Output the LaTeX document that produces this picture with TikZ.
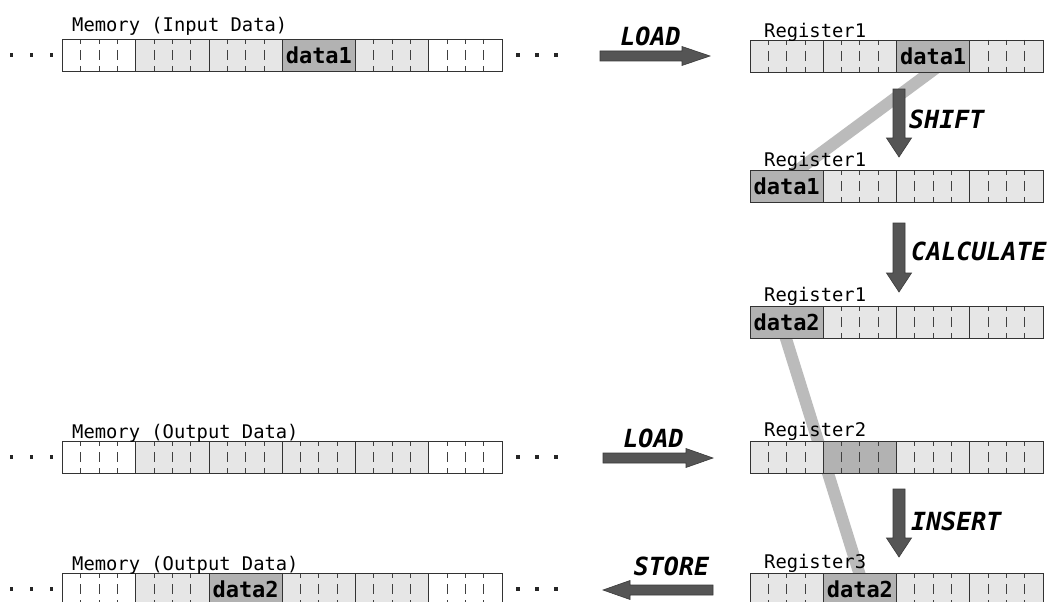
\documentclass[tikz,border=0pt]{standalone}
\usepackage{fontspec}
\usetikzlibrary{calc}
\newfontfamily\lblfont{DejaVu Sans Mono}
\newfontfamily\datafont{DejaVu Sans Mono Bold}
\newfontfamily\opfont{DejaVu Sans Mono Bold Oblique}
\definecolor{lightc}{HTML}{E6E6E6}
\definecolor{darkc}{HTML}{B2B2B2}
\definecolor{bandc}{HTML}{BBBBBB}
\definecolor{arrowc}{HTML}{555555}
\definecolor{arrowline}{HTML}{3A3A3A}
\tikzset{
  cellbase/.style={draw=black!80, line width=0.8pt, minimum width=73.25pt,
    minimum height=32pt, inner sep=0pt, outer sep=0pt, anchor=north west},
  tickd/.style={draw=black!75, line width=0.8pt,
    dash pattern=on 5pt off 6pt on 10pt off 6pt on 5pt off 6pt},
  ticked/.style={path picture={
    \foreach \f in {0.25,0.5,0.75}
      \draw[tickd] ($(path picture bounding box.north west)!\f!(path picture bounding box.north east)$)
        -- ($(path picture bounding box.south west)!\f!(path picture bounding box.south east)$);}},
  wcell/.style={cellbase, fill=white, ticked},
  lcell/.style={cellbase, fill=lightc, ticked},
  mcell/.style={cellbase, fill=darkc, ticked},
  dcell/.style={cellbase, fill=darkc, font=\datafont\fontsize{22}{22}\selectfont},
  lbl/.style={font=\lblfont\fontsize{18.8}{20}\selectfont, anchor=base west, inner sep=0pt},
  oplbl/.style={font=\opfont\fontsize{25}{26}\selectfont, inner sep=0pt},
  band/.style={draw=bandc, line width=12pt},
  blockarrow/.style={fill=arrowc, draw=arrowline, line width=0.6pt, line join=miter},
  dotsq/.style={fill=black!85}
}
\newcommand\cellrow[4]{%
  \foreach \s/\t [count=\i from 0] in {#4} {
    \node[style/.expanded=\s] (#1-\i) at ({#2+\i*73.25}, #3) {\t};
  }}
% horizontal block arrow: tail x, tip x, y, head base x
\newcommand\harrow[4]{%
  \path[blockarrow] (#1,#3-5) -- (#4,#3-5) -- (#4,#3-9.5) -- (#2,#3)
    -- (#4,#3+9.5) -- (#4,#3+5) -- (#1,#3+5) -- cycle;}
% vertical block arrow: x, top y, tip y, head base y
\newcommand\varrow[4]{%
  \path[blockarrow] (#1-6,#2) -- (#1+6,#2) -- (#1+6,#4) -- (#1+12.5,#4) -- (#1,#3)
    -- (#1-12.5,#4) -- (#1-6,#4) -- cycle;}
\newcommand\dotrow[1]{%
  \foreach \xx in {11.7,31.7,51.7,518,537,556}
    \fill[dotsq] (\xx-1.75,#1-1.75) rectangle (\xx+1.75,#1+1.75);}
\begin{document}
\begin{tikzpicture}[x=1pt,y=-1pt]
\clip (0,0) rectangle (1052,602);
\fill[white] (0,0) rectangle (1052,602);
% gray bands (behind everything)
\coordinate (b1s) at (938.7,66);
\coordinate (b1e) at (791.3,175);
\coordinate (b2s) at (783,329);
\coordinate (b2e) at (862,582);
\draw[band] (b1s) -- (b1e);
\draw[band] (b2s) -- (b2e);
% memory rows
\cellrow{min}{62.5}{39}{wcell/{},lcell/{},lcell/{},dcell/data1,lcell/{},wcell/{}}
\cellrow{mouta}{62.5}{441}{wcell/{},lcell/{},lcell/{},lcell/{},lcell/{},wcell/{}}
\cellrow{moutb}{62.5}{573}{wcell/{},lcell/{},dcell/data2,lcell/{},lcell/{},wcell/{}}
\dotrow{55}
\dotrow{457}
\dotrow{589}
% registers
\cellrow{ra}{750}{40}{lcell/{},lcell/{},dcell/data1,lcell/{}}
\cellrow{rb}{750}{170}{dcell/data1,lcell/{},lcell/{},lcell/{}}
\cellrow{rc}{750}{306}{dcell/data2,lcell/{},lcell/{},lcell/{}}
\cellrow{rd}{750}{441}{lcell/{},mcell/{},lcell/{},lcell/{}}
\cellrow{re}{750}{573}{lcell/{},dcell/data2,lcell/{},lcell/{}}
% labels
\node[lbl] (lmin) at (72,32) {Memory (Input Data)};
\node[lbl] (lmouta) at (72,438) {Memory (Output Data)};
\node[lbl] (lmoutb) at (72,570) {Memory (Output Data)};
\node[lbl] (lra) at (764,37.5) {Register1};
\node[lbl] (lrb) at (764,166) {Register1};
\node[lbl] (lrc) at (764,301) {Register1};
\node[lbl] (lrd) at (764,436) {Register2};
\node[lbl] (lre) at (764,568) {Register3};
% arrows
\harrow{600}{710}{56}{682}
\harrow{603}{713}{458}{686}
\harrow{713}{603}{590}{630}
\varrow{899}{89}{157}{138}
\varrow{899}{223}{292}{273}
\varrow{899}{489}{557}{538}
% operation labels
\node[oplbl, anchor=base] (opload) at (650.5,46) {LOAD};
\node[oplbl, anchor=base] (opload2) at (653.5,447) {LOAD};
\node[oplbl, anchor=base] (opstore) at (671.5,575) {STORE};
\node[oplbl, anchor=base west] (opshift) at (909,128) {SHIFT};
\node[oplbl, anchor=base west] (opcalc) at (911,260) {CALCULATE};
\node[oplbl, anchor=base west] (opinsert) at (911,530) {INSERT};
\end{tikzpicture}
\end{document}
